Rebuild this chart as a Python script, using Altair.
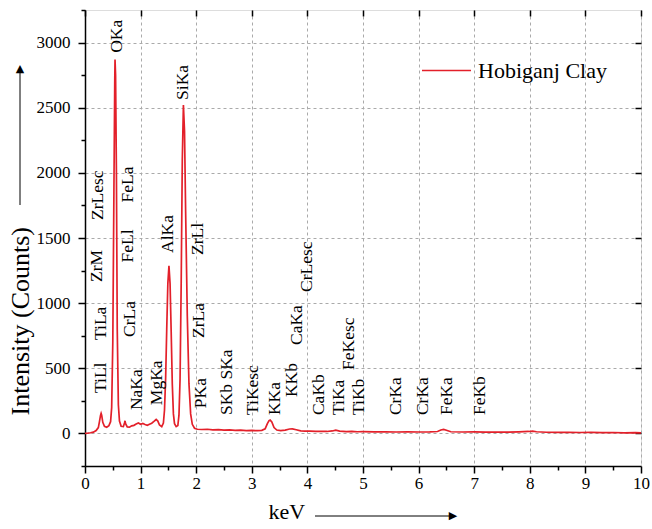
import altair as alt
import pandas as pd

# ---- spectrum ----
kev = [0.00, 0.05, 0.10, 0.15, 0.20, 0.24, 0.26, 0.28, 0.29, 0.30, 0.32, 0.35, 0.39, 0.43, 0.46, 0.48,
       0.50, 0.52, 0.535, 0.54, 0.55, 0.565, 0.58, 0.60, 0.62, 0.65, 0.69, 0.71, 0.72, 0.73, 0.76, 0.80,
       0.84, 0.88, 0.92, 0.96, 1.00, 1.04, 1.08, 1.12, 1.16, 1.20, 1.24, 1.28, 1.31, 1.34, 1.38, 1.41,
       1.43, 1.45, 1.47, 1.49, 1.51, 1.53, 1.55, 1.57, 1.59, 1.61, 1.64, 1.67, 1.69, 1.71, 1.73, 1.75,
       1.77, 1.79, 1.81, 1.84, 1.87, 1.90, 1.93, 1.97, 2.02, 2.10, 2.20, 2.30, 2.40, 2.50, 2.60, 2.70,
       2.80, 2.90, 3.00, 3.10, 3.18, 3.24, 3.28, 3.31, 3.33, 3.36, 3.40, 3.45, 3.52, 3.60, 3.68, 3.73,
       3.80, 3.88, 3.96, 4.05, 4.15, 4.25, 4.35, 4.45, 4.51, 4.58, 4.70, 4.80, 4.90, 5.00, 5.20, 5.40,
       5.60, 5.80, 6.00, 6.20, 6.34, 6.40, 6.45, 6.50, 6.58, 6.80, 7.00, 7.20, 7.40, 7.60, 7.80, 7.98,
       8.05, 8.12, 8.30, 8.50, 8.70, 8.90, 9.10, 9.30, 9.50, 9.70, 9.90, 10.00]
counts = [0, 2, 5, 10, 22, 45, 90, 140, 154, 140, 85, 55, 48, 60, 90, 200,
          700, 1850, 2700, 2870, 2750, 2000, 800, 220, 95, 55, 52, 80, 97, 75, 50, 48,
          58, 62, 72, 80, 70, 76, 68, 62, 70, 78, 92, 107, 95, 65, 52, 80,
          180, 420, 800, 1150, 1287, 1150, 780, 380, 150, 75, 52, 60, 140, 420, 1150, 2100,
          2520, 2320, 1700, 900, 380, 150, 70, 40, 32, 30, 32, 27, 29, 25, 27, 23,
          25, 21, 23, 21, 24, 35, 75, 98, 102, 88, 45, 26, 22, 26, 34, 35,
          28, 20, 18, 17, 15, 16, 15, 19, 25, 18, 14, 15, 13, 14, 12, 13,
          11, 12, 11, 12, 15, 26, 31, 24, 13, 11, 12, 10, 11, 10, 12, 15,
          18, 13, 9, 8, 9, 7, 8, 6, 7, 5, 6, 5]
series_name = "Hobiganj Clay"

# ---- peak annotations ----
label_names = ["TiLl", "TiLa", "ZrM", "ZrLesc", "OKa", "FeLa", "FeLl", "CrLa", "NaKa", "MgKa",
               "AlKa", "SiKa", "ZrLl", "ZrLa", "PKa", "SKb SKa", "TiKesc", "KKa", "KKb", "CaKa",
               "CrLesc", "CaKb", "TiKa", "FeKesc", "TiKb", "CrKa", "CrKa", "FeKa", "FeKb"]
label_x = [0.28, 0.28, 0.21, 0.24, 0.57, 0.78, 0.78, 0.81, 0.94, 1.30,
           1.50, 1.77, 2.04, 2.05, 2.08, 2.55, 3.03, 3.42, 3.72, 3.81,
           3.99, 4.20, 4.56, 4.74, 4.92, 5.60, 6.08, 6.51, 7.10]
label_y = [310, 717, 1162, 1638, 2921, 1772, 1312, 740, 179, 217,
           1385, 2560, 1370, 732, 194, 141, 141, 141, 279, 679,
           1086, 141, 141, 487, 141, 141, 141, 141, 141]

x_major = list(range(0, 11))
x_minor = [0.5, 1.5, 2.5, 3.5, 4.5, 5.5, 6.5, 7.5, 8.5, 9.5]
y_major = [0, 500, 1000, 1500, 2000, 2500, 3000]
y_minor = [-250, 250, 750, 1250, 1750, 2250, 2750, 3250]

FONT = "Liberation Serif"
W, H = 556, 456
RED = "#e3202a"

spec = pd.DataFrame({"keV": kev, "counts": counts, "series": series_name})
labels = pd.DataFrame({"name": label_names, "x": label_x, "y": label_y})
one = pd.DataFrame({"k": [0]})

xs = alt.Scale(domain=[0, 10], nice=False, zero=False)
ys = alt.Scale(domain=[-250, 3250], nice=False, zero=False)

line = alt.Chart(spec).mark_line(strokeWidth=1.7).encode(
    x=alt.X("keV:Q", scale=xs, axis=alt.Axis(
        orient="bottom", values=x_major, format="d", title="keV", labelFlush=False,
        titleX=183, titleY=52, titleAlign="left", titleBaseline="alphabetic",
        titleFont=FONT, titleFontSize=22, titleFontWeight="normal", titleColor="black",
        labelFont=FONT, labelFontSize=17, labelColor="black", labelPadding=2,
        tickSize=7, tickColor="black", tickWidth=1.5,
        domainColor="black", domainWidth=1.5,
        grid=True, gridDash=[3, 3], gridColor="#aaaaaa", gridWidth=1)),
    y=alt.Y("counts:Q", scale=ys, axis=alt.Axis(
        orient="left", values=y_major, format="d", title="Intensity (Counts)", labelFlush=False,
        titleX=-65, titleY=405, titleAngle=270, titleAlign="left", titleBaseline="middle",
        titleFont=FONT, titleFontSize=26, titleFontWeight="normal", titleColor="black",
        labelFont=FONT, labelFontSize=17, labelColor="black", labelPadding=8,
        tickSize=7, tickColor="black", tickWidth=1.5,
        domainColor="black", domainWidth=1.5,
        grid=True, gridDash=[3, 3], gridColor="#aaaaaa", gridWidth=1)),
    color=alt.Color("series:N", scale=alt.Scale(domain=[series_name], range=[RED]),
                    legend=alt.Legend(orient="none", legendX=336, legendY=35, title=None,
                                      symbolType="stroke", symbolSize=2400, symbolStrokeWidth=1.7,
                                      labelFont=FONT, labelFontSize=22, labelColor="black",
                                      labelOffset=6, padding=0)),
)

minor = alt.Chart(spec).mark_point(opacity=0).encode(
    x=alt.X("keV:Q", scale=xs, axis=alt.Axis(
        orient="bottom", values=x_minor, labels=False, domain=False, grid=False, title=None,
        tickSize=4, tickColor="black", tickWidth=1.5)),
    y=alt.Y("counts:Q", scale=ys, axis=alt.Axis(
        orient="left", values=y_minor, labels=False, domain=False, grid=False, title=None,
        tickSize=4, tickColor="black", tickWidth=1.5)),
)

mirror = alt.Chart(spec).mark_point(opacity=0).encode(
    x=alt.X("keV:Q", scale=xs, axis=alt.Axis(
        orient="bottom", offset=-H, values=x_major, labels=False, domain=False, grid=False,
        title=None, tickSize=6, tickColor="black", tickWidth=1.5)),
    y=alt.Y("counts:Q", scale=ys, axis=alt.Axis(
        orient="left", offset=-W, values=y_major, labels=False, domain=False, grid=False,
        title=None, tickSize=6, tickColor="black", tickWidth=1.5)),
)

text = alt.Chart(labels).mark_text(angle=270, align="left", baseline="middle",
                                   font=FONT, fontSize=17.5, color="black").encode(
    x=alt.X("x:Q", scale=xs, axis=None),
    y=alt.Y("y:Q", scale=ys, axis=None),
    text="name:N",
)

# axis-title arrows (decoration)
yarrow = alt.Chart(one).mark_rule(color="black", strokeWidth=1).encode(
    x=alt.value(-65), y=alt.value(195), y2=alt.value(62))
yhead = alt.Chart(one).mark_text(text="\u25b2", font="DejaVu Sans", fontSize=11, color="black",
                                 align="center", baseline="middle").encode(
    x=alt.value(-65), y=alt.value(59))
xarrow = alt.Chart(one).mark_rule(color="black", strokeWidth=1).encode(
    x=alt.value(230), x2=alt.value(364), y=alt.value(506))
xhead = alt.Chart(one).mark_text(text="\u25b6", font="DejaVu Sans", fontSize=11, color="black",
                                 align="center", baseline="middle").encode(
    x=alt.value(368), y=alt.value(506))

chart = alt.layer(line, minor, mirror, text, yarrow, yhead, xarrow, xhead).resolve_axis(
    x="independent", y="independent"
).properties(
    width=W, height=H,
    autosize=alt.AutoSizeParams(type="none"),
    padding={"left": 85, "top": 10, "right": 11, "bottom": 63},
).configure_view(stroke="black", strokeWidth=1.5).configure(background="white")

chart.save("out.html", embed_options={"renderer": "svg", "actions": False})
